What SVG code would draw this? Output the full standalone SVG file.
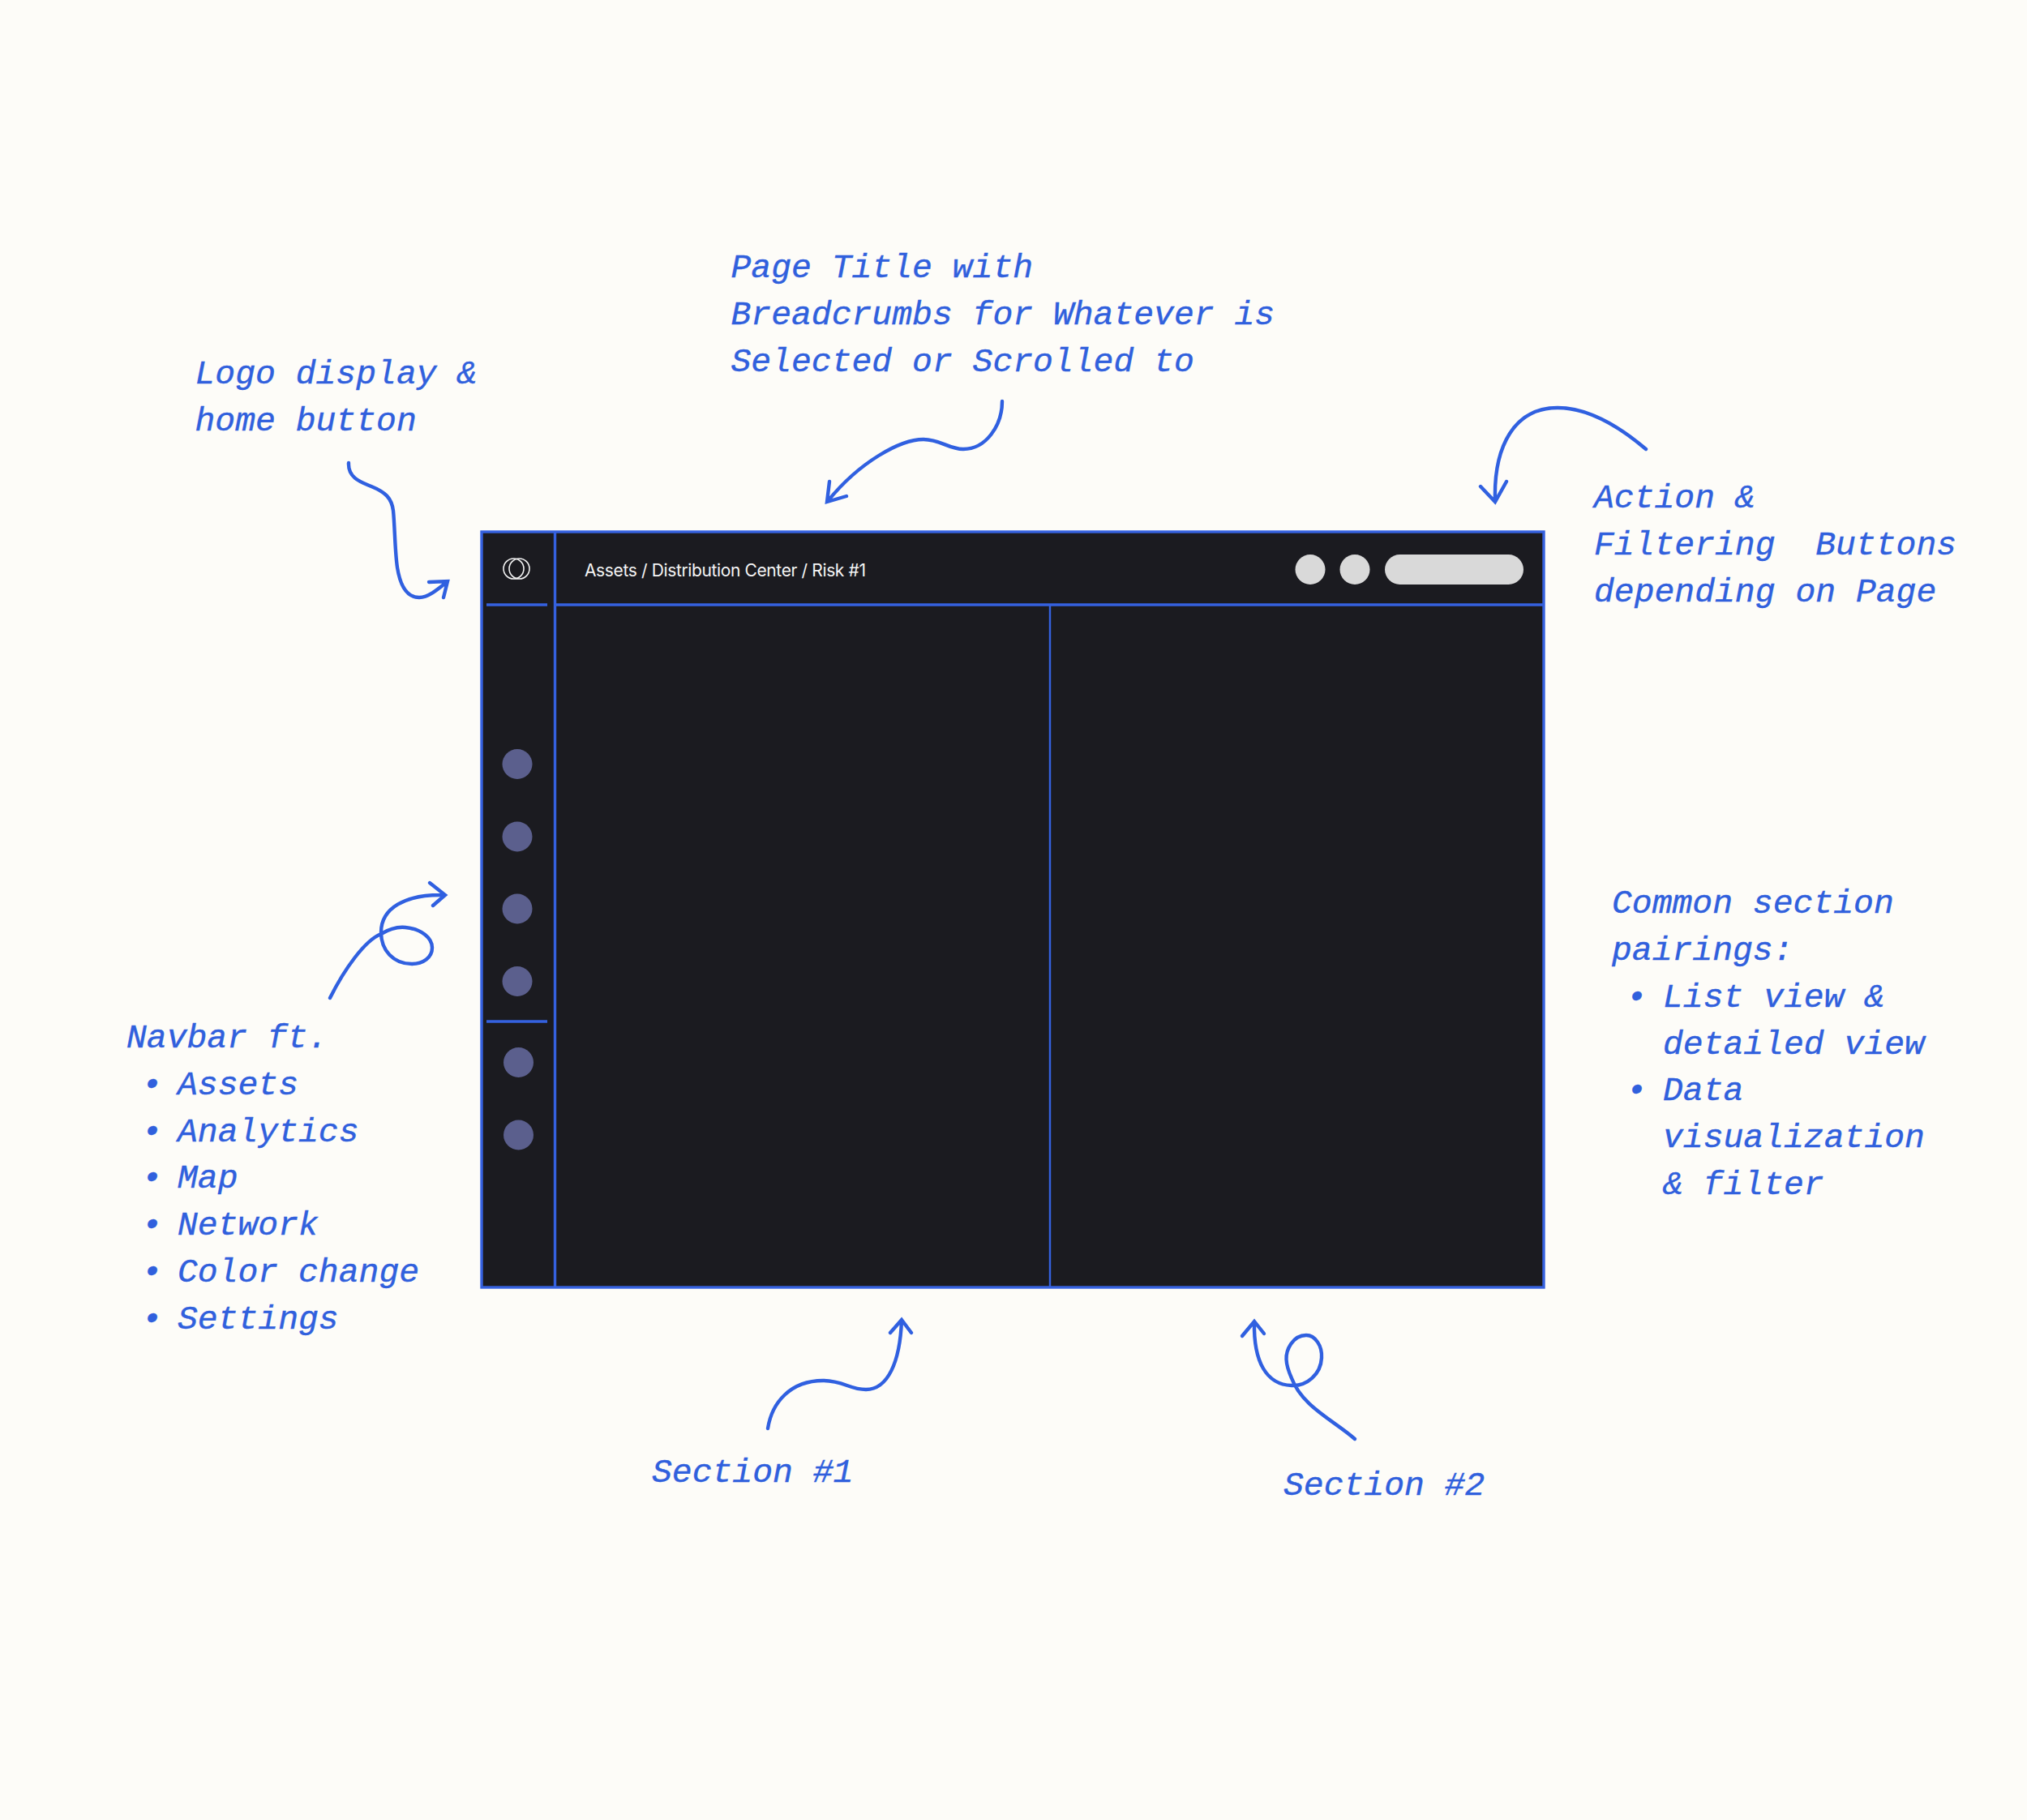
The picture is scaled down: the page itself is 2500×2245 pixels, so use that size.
<svg xmlns="http://www.w3.org/2000/svg" width="2500" height="2245" viewBox="0 0 2500 2245">
<style>
.n{font-family:"Liberation Mono",monospace;font-style:italic;font-size:41.4px;fill:#3060dd;stroke:#3060dd;stroke-width:.4px}
.c{fill:none;stroke:#3060e0;stroke-width:4.4;stroke-linecap:round;stroke-linejoin:miter}
.l{stroke:#3561df;stroke-width:3.4;fill:none}
.d{fill:#5b5f8d}
.b{fill:#d9d9d9}
.o{fill:none;stroke:#f2f2f2;stroke-width:1.6}
</style>
<rect width="2500" height="2245" fill="#fdfcf8"/>
<g id="window">
<rect x="594" y="656" width="1310" height="932" fill="#1b1b20" stroke="#3561df" stroke-width="3.4"/>
<path class="l" d="M684.5 656V1588M685 746H1904M600 746H675M600 1260H675"/>
<path class="l" style="stroke-width:2.4" d="M1295 746V1588"/>
</g>
<g id="logo"><circle class="o" cx="633.5" cy="701.5" r="12.5"/><circle class="o" cx="640.5" cy="701.5" r="12.5"/></g>
<g id="breadcrumb"><text x="721" y="710.5" font-family="Inter,sans-serif" font-size="21" fill="#f5f5f5" textLength="347">Assets / Distribution Center / Risk #1</text></g>
<g id="actions"><circle class="b" cx="1616" cy="702.5" r="18.5"/><circle class="b" cx="1671" cy="702.5" r="18.5"/><rect class="b" x="1708" y="684" width="171" height="37" rx="18.5"/></g>
<g id="nav-items">
<circle class="d" cx="638" cy="942.5" r="18.5"/><circle class="d" cx="638" cy="1032" r="18.5"/><circle class="d" cx="638" cy="1121" r="18.5"/><circle class="d" cx="638" cy="1210.5" r="18.5"/><circle class="d" cx="639.5" cy="1310.5" r="18.5"/><circle class="d" cx="639.5" cy="1400" r="18.5"/>
</g>
<g id="connectors">
<path class="c" d="M430 571C429 590 446 595 458 600C475 607 483 614 485 630C487 650 487 680 490 700C494 725 503 737 517 737C528 737 540 727 551 718M529 718L552 717L547 737"/>
<path class="c" d="M1236 495C1236 525 1216 554 1188 554C1170 554 1160 542 1139 542C1110 542 1060 570 1021 618M1023 594L1020 619L1044 612"/>
<path class="c" d="M2030 554C1990 520 1955 503 1921 503C1868 503 1842 550 1844 618M1826 600L1844 619L1858 594"/>
<path class="c" d="M407 1231C425 1195 450 1160 470 1152C480 1146 490 1143 500 1144C520 1146 533 1157 533 1169C533 1181 522 1189 508 1189C485 1189 470 1172 470 1150C470 1120 500 1103 547 1104M530 1089L549 1104L534 1117"/>
<path class="c" d="M947 1762C952 1730 975 1703 1015 1703C1040 1703 1048 1714 1068 1714C1095 1714 1110 1680 1112 1629M1098 1644L1112 1628L1124 1644"/>
<path class="c" d="M1671 1775C1645 1752 1606 1735 1593 1700C1585 1682 1584 1670 1592 1658C1598 1649 1605 1647 1611 1647C1622 1647 1631 1660 1630 1675C1629 1695 1612 1710 1593 1709C1562 1708 1546 1680 1547 1631M1532 1648L1547 1630L1559 1645"/>
</g>
<g id="note-logo"><text class="n" x="240.500" y="473">Logo display &amp;</text><text class="n" x="240.500" y="531">home button</text></g>
<g id="note-title"><text class="n" x="901.500" y="342">Page Title with</text><text class="n" x="901.500" y="400">Breadcrumbs for Whatever is</text><text class="n" x="901.500" y="458">Selected or Scrolled to</text></g>
<g id="note-actions"><text class="n" x="1966" y="626">Action &amp;</text><text class="n" x="1966" y="684" xml:space="preserve">Filtering  Buttons</text><text class="n" x="1966" y="742">depending on Page</text></g>
<g id="note-sections"><text class="n" x="1988" y="1126">Common section</text><text class="n" x="1988" y="1184">pairings:</text><text class="n" x="2006" y="1242">•</text><text class="n" x="2051" y="1242">List view &amp;</text><text class="n" x="2051" y="1300">detailed view</text><text class="n" x="2006" y="1357">•</text><text class="n" x="2051" y="1357">Data</text><text class="n" x="2051" y="1415">visualization</text><text class="n" x="2051" y="1473">&amp; filter</text></g>
<g id="note-navbar"><text class="n" x="156" y="1292">Navbar ft.</text>
<text class="n" x="175" y="1350">•</text><text class="n" x="219" y="1350">Assets</text>
<text class="n" x="175" y="1408">•</text><text class="n" x="219" y="1408">Analytics</text>
<text class="n" x="175" y="1465">•</text><text class="n" x="219" y="1465">Map</text>
<text class="n" x="175" y="1523">•</text><text class="n" x="219" y="1523">Network</text>
<text class="n" x="175" y="1581">•</text><text class="n" x="219" y="1581">Color change</text>
<text class="n" x="175" y="1639">•</text><text class="n" x="219" y="1639">Settings</text></g>
<g id="note-section1"><text class="n" x="804" y="1828">Section #1</text></g>
<g id="note-section2"><text class="n" x="1583" y="1844">Section #2</text></g>
</svg>
